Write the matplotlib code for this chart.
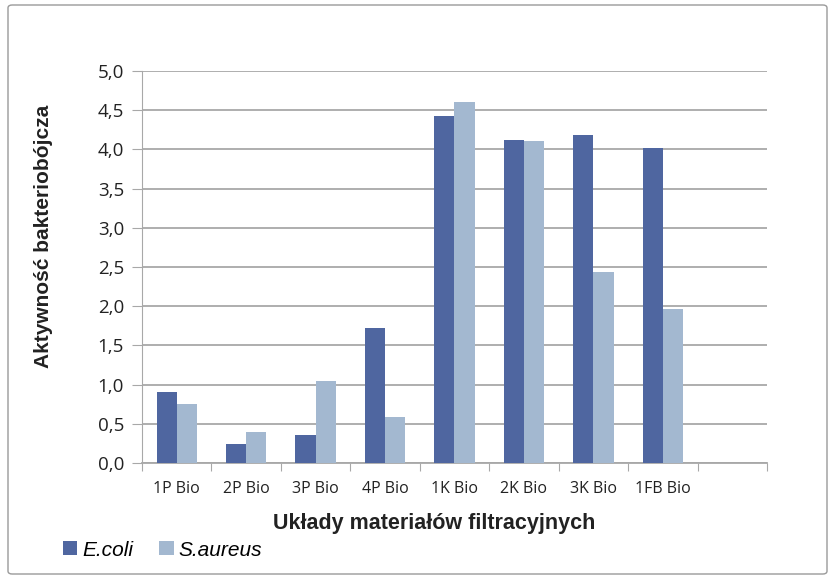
import numpy as np
import matplotlib.pyplot as plt
from matplotlib.patches import FancyBboxPatch

#data
categories = ["1P Bio", "2P Bio", "3P Bio", "4P Bio", "1K Bio", "2K Bio",
              "3K Bio", "1FB Bio", ""]
ecoli = [0.91, 0.24, 0.36, 1.72, 4.42, 4.12, 4.18, 4.02, np.nan]
saureus = [0.75, 0.40, 1.04, 0.59, 4.61, 4.11, 2.43, 1.97, np.nan]

c_ecoli = "#4F66A0"
c_saureus = "#A3B8D0"

fig = plt.figure(figsize=(8.33, 5.77), dpi=100)
W, H = 833, 577
ax = fig.add_axes([142/W, 1 - 463/H, (767-142)/W, (463-71)/H])

x = np.arange(len(categories))
bw = 0.29
ax.bar(x - bw/2, ecoli, bw, color=c_ecoli, label="E.coli", zorder=3)
ax.bar(x + bw/2, saureus, bw, color=c_saureus, label="S.aureus", zorder=3)

ax.set_xlim(-0.5, len(categories) - 0.5)
ax.set_ylim(0, 5)
yt = np.arange(0, 5.01, 0.5)
ax.set_yticks(yt)
ax.set_yticklabels([("%.1f" % v).replace(".", ",") for v in yt],
                   fontsize=13.5, family="Open Sans", color="#222222")
ax.yaxis.grid(True, color="#A8A8A8", linewidth=1.3, zorder=0)
ax.tick_params(axis="y", length=7, color="#A8A8A8", pad=6)

#category labels between ticks
ax.set_xticks(np.arange(-0.5, len(categories), 1.0))
ax.set_xticklabels([])
ax.tick_params(axis="x", length=6, color="#A8A8A8")
for i, c in enumerate(categories):
    ax.text(i, -0.33, c, ha="center", va="center", fontsize=11.5,
            family="Open Sans", color="#222222")

for s in ["top", "right"]:
    ax.spines[s].set_visible(False)
ax.spines["left"].set_color("#A8A8A8")
ax.spines["bottom"].set_color("#A8A8A8")
ax.spines["bottom"].set_linewidth(1.3)

ax.set_ylabel("Aktywność bakteriobójcza", fontsize=15, fontweight="bold",
              family="Liberation Sans", color="#222222")
ax.yaxis.set_label_coords((53 - 142)/(767 - 142), 0.577)
fig.text(434/W, 1 - 524/H, "Układy materiałów filtracyjnych", ha="center",
         va="center", fontsize=15.5, fontweight="bold", family="Liberation Sans",
         color="#222222")

#legend at bottom left
leg = ax.legend(loc="center left", bbox_to_anchor=(63/W, 1 - 550/H),
                bbox_transform=fig.transFigure, ncol=2, frameon=False,
                prop={"family": "Liberation Sans", "style": "italic", "size": 15},
                handlelength=0.68, handleheight=0.68, handletextpad=0.25,
                columnspacing=1.25, borderaxespad=0, borderpad=0)

#outer chart border
fig.patches.append(FancyBboxPatch((8/W, 3/H), (827-8)/W, (572-3)/H,
                                  boxstyle="round,pad=0,rounding_size=0.005",
                                  transform=fig.transFigure, fill=False,
                                  edgecolor="#9A9A9A", linewidth=1))

fig.savefig("out.png", dpi=100)
